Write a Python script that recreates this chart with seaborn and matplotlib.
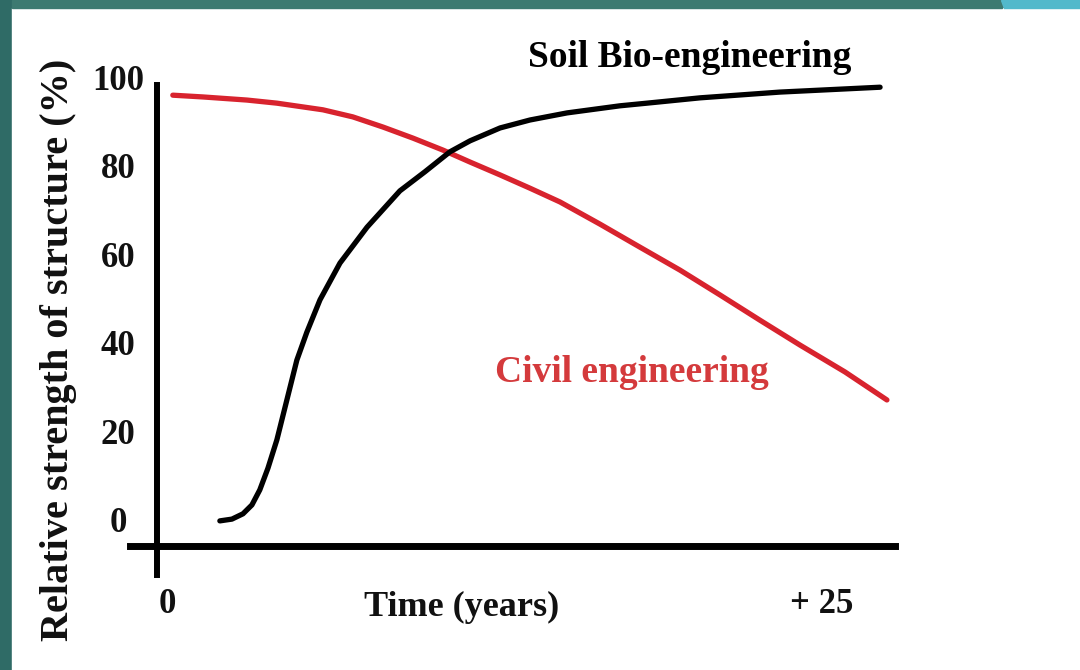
import matplotlib.pyplot as plt
import matplotlib.patches as mpatches
import numpy as np
import pandas as pd
import seaborn as sns

# curves (years, % strength)
bio_years = [2.09, 2.55, 2.97, 3.31, 3.61, 3.92, 4.26, 4.64, 5.02, 5.40,
             5.90, 6.66, 7.69, 8.94, 9.89, 10.84, 11.61, 12.75, 13.89,
             15.30, 17.31, 18.34, 20.36, 23.40, 27.21]
bio_strength = [-0.2, 0.2, 1.4, 3.4, 6.8, 11.7, 18.1, 27.1, 36.1, 42.4,
                49.7, 58.0, 66.1, 74.3, 78.6, 83.1, 85.6, 88.5, 90.3,
                91.9, 93.5, 94.1, 95.3, 96.6, 97.7]

civil_years = [0.30, 1.45, 3.12, 4.26, 6.01, 7.15, 8.30, 9.44, 10.58,
               11.61, 12.75, 13.89, 15.03, 16.55, 18.07, 19.60, 21.12,
               22.64, 24.16, 25.88, 27.47]
civil_strength = [95.9, 95.5, 94.8, 94.1, 92.6, 91.0, 88.7, 86.2, 83.5,
                  80.8, 77.9, 74.9, 71.8, 66.8, 61.6, 56.4, 50.8,
                  45.1, 39.5, 33.4, 27.1]

y_ticks = [0, 20, 40, 60, 80, 100]
x_ticks = [0.1, 25]
x_tick_labels = ["0", "+ 25"]

bio = pd.DataFrame({"years": bio_years, "strength": bio_strength})
civil = pd.DataFrame({"years": civil_years, "strength": civil_strength})

sns.set_theme(style="white")
plt.rcParams["font.family"] = ["Liberation Serif", "DejaVu Serif"]
plt.rcParams["font.weight"] = "bold"
plt.rcParams["text.color"] = "#111111"
plt.rcParams["axes.labelcolor"] = "#111111"
plt.rcParams["xtick.color"] = "#111111"
plt.rcParams["ytick.color"] = "#111111"

fig = plt.figure(figsize=(10.8, 6.7), dpi=100, facecolor="#2f6b66")

# slide background: white panel, teal frame, cyan corner
fig.patches.append(mpatches.Rectangle((12 / 1080, 0), 1 - 12 / 1080, 1 - 8 / 670,
                                      transform=fig.transFigure, color="white", zorder=-10))
fig.patches.append(mpatches.Rectangle((12 / 1080, 1 - 8 / 670), 990 / 1080, 8 / 670,
                                      transform=fig.transFigure, color="#3d7a71", zorder=-10))
fig.patches.append(mpatches.Polygon([(1001 / 1080, 1), (1, 1), (1, 1 - 8 / 670), (1004 / 1080, 1 - 8 / 670)],
                                    closed=True, transform=fig.transFigure, color="#52b9cb", zorder=-10))

ax = fig.add_axes([100 / 1080, 70 / 670, 850 / 1080, 550 / 670])
ax.patch.set_alpha(0)

sns.lineplot(data=civil, x="years", y="strength", ax=ax, color="#d8232e",
             linewidth=3.8, estimator=None, sort=False)
sns.lineplot(data=bio, x="years", y="strength", ax=ax, color="black",
             linewidth=3.8, estimator=None, sort=False)
for ln in ax.lines:
    ln.set_solid_joinstyle("round")

ax.set_xlim(-2.47, 29.87)
ax.set_ylim(-18.06, 106.1)

# axes drawn as thick crossing lines
for side in ["top", "right"]:
    ax.spines[side].set_visible(False)
ax.spines["left"].set_position(("data", -0.30))
ax.spines["left"].set_bounds(-12.4, 98.2)
ax.spines["left"].set_linewidth(4.3)
ax.spines["left"].set_color("black")
ax.spines["bottom"].set_position(("data", -5.87))
ax.spines["bottom"].set_bounds(-1.33, 27.78)
ax.spines["bottom"].set_linewidth(5)
ax.spines["bottom"].set_color("black")

ax.set_yticks(y_ticks)
ax.set_yticklabels([str(v) for v in y_ticks], fontsize=25, fontweight="bold", ha="center")
ax.tick_params(axis="y", length=0, pad=28)
ax.set_xticks(x_ticks)
ax.set_xticklabels(x_tick_labels, fontsize=25, fontweight="bold")
ax.tick_params(axis="x", length=0, pad=30)

ax.set_xlabel("Time (years)", fontsize=26, fontweight="bold")
ax.xaxis.set_label_coords(0.426, -0.0127)
ax.xaxis.label.set_va("center")
ax.set_ylabel("Relative strength of structure (%)", fontsize=29, fontweight="bold")
ax.yaxis.set_label_coords(-0.0494, 0.4545)
ax.yaxis.label.set_va("center")

ax.text(19.98, 104.5, "Soil Bio-engineering", fontsize=27, fontweight="bold",
        ha="center", va="center", color="black", clip_on=False)
ax.text(17.77, 33.4, "Civil engineering", fontsize=27, fontweight="bold",
        ha="center", va="center", color="#d43a3c", clip_on=False)

fig.savefig("out.png", dpi=100, facecolor=fig.get_facecolor())
